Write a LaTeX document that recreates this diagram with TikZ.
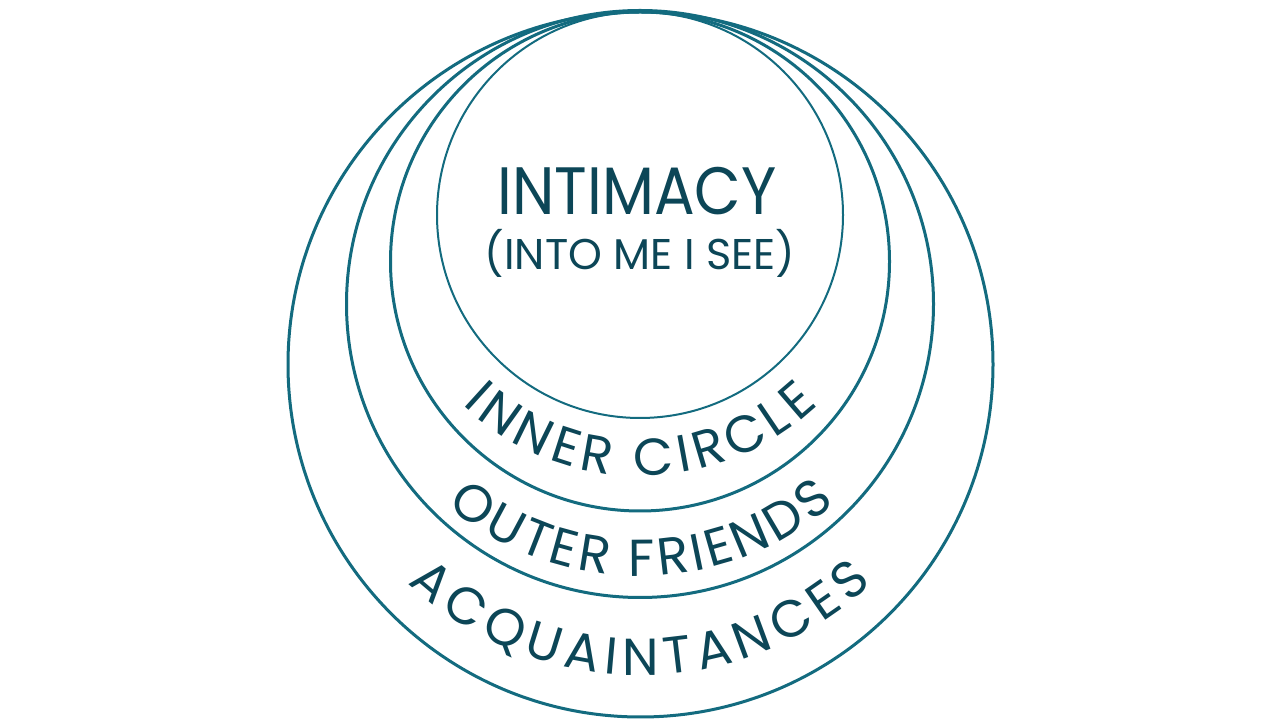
\documentclass[tikz,border=0pt]{standalone}
\usepackage{fontspec}
\setmainfont{Poppins}
\usetikzlibrary{decorations.text}
\definecolor{ringc}{HTML}{136B7F}
\definecolor{ink}{HTML}{0C4657}
\begin{document}
\begin{tikzpicture}[x=1pt,y=1pt,
  ringline/.style={draw=ringc,line width=3pt},
  innerline/.style={draw=ringc,line width=2pt},
  bigtext/.style={anchor=base,text=ink,inner sep=0pt,font=\fontsize{67}{70}\selectfont},
  subtext/.style={anchor=base,text=ink,inner sep=0pt,font=\fontsize{43}{46}\selectfont},
  arclabel/.style={decorate,decoration={text along path,text align=fit to path,
    text={|\fontsize{52}{60}\selectfont\color{ink}|#1}}}]
\useasboundingbox (0,0) rectangle (1280,720);
\fill[white] (0,0) rectangle (1280,720);
% rings
\draw[ringline] (640.5,355.5) circle[radius=352.5pt];
\draw[ringline] (640,416) circle[radius=293.5pt];
\draw[ringline] (640,458.5) circle[radius=249.5pt];
\draw[innerline] (640,505) circle[radius=203pt];
% centre texts
\node[bigtext] (intimacy) at (637,505) {\scalebox{0.9}[1]{INTIMACY}};
\node[subtext] (intome) at (640,450) {(INTO ME I SEE)};
% curved labels
\path[arclabel={INNER CIRCLE}]
  (640,502) ++(226.4:258pt) arc[start angle=226.4,end angle=313.6,radius=258pt];
\path[arclabel={OUTER FRIENDS}]
  (640,445) ++(230:301pt) arc[start angle=230,end angle=310.5,radius=301pt];
\path[arclabel={ACQUAINTANCES}]
  (640,384) ++(226.8:339pt) arc[start angle=226.8,end angle=313.2,radius=339pt];
\end{tikzpicture}
\end{document}
